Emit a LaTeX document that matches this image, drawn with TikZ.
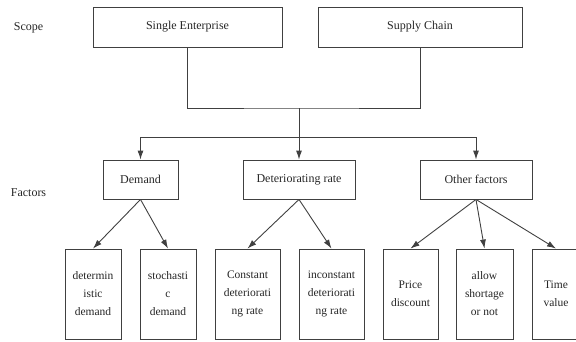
\documentclass[tikz,border=0pt]{standalone}
\usepackage{fontspec}
\setmainfont{Liberation Serif}
\usetikzlibrary{arrows.meta}
\begin{document}
\begin{tikzpicture}[x=1pt,y=-1pt,
  box/.style={draw=black!75, line width=0.9pt, rectangle, inner sep=1pt, align=center, font=\fontsize{12}{12}\selectfont, text=black!85},
  leaf/.style={box, minimum height=90pt, font=\fontsize{11.5}{18}\selectfont},
  lbl/.style={font=\fontsize{12}{12}\selectfont, text=black!85},
  conn/.style={draw=black!75, line width=0.9pt},
  arr/.style={conn, -{Latex[length=9pt,width=6pt]}}]
\useasboundingbox (0,0) rectangle (576,341);
\clip (0,0) rectangle (576,341);
% labels
\node[lbl] (scope) at (28.5,28) {Scope};
\node[lbl] (factors) at (28.5,193) {Factors};
% top level
\node[box, minimum width=189pt, minimum height=40pt] (se) at (187.5,27) {Single Enterprise};
\node[box, minimum width=204pt, minimum height=40pt] (sc) at (420,27) {Supply Chain};
% second level
\node[box, minimum width=75pt, minimum height=39pt] (dem) at (140.5,179.5) {Demand};
\node[box, minimum width=112pt, minimum height=39pt] (det) at (299,179.5) {Deteriorating rate};
\node[box, minimum width=112pt, minimum height=39pt] (oth) at (476,179.5) {Other factors};
% leaves
\node[leaf, minimum width=56pt] (b1) at (93,294) {determin\\istic\\demand};
\node[leaf, minimum width=56pt] (b2) at (168,294) {stochasti\\c\\demand};
\node[leaf, minimum width=65pt] (b3) at (247.5,294) {Constant\\deteriorati\\ng rate};
\node[leaf, minimum width=65pt] (b4) at (331.5,294) {inconstant\\deteriorati\\ng rate};
\node[leaf, minimum width=55pt] (b5) at (410.5,294) {Price\\discount};
\node[leaf, minimum width=57pt] (b6) at (484.5,294) {allow\\shortage\\or not};
\node[leaf, minimum width=48pt] (b7) at (556,294) {Time\\value};
% connectors
\coordinate (top) at (299,108);
\coordinate (mid) at (299,137);
\draw[conn] (se.south) |- (top) -| (sc.south);
\draw[conn] (top) -- (mid);
\draw[arr] (mid) -| (dem.north);
\draw[arr] (mid) -- (det.north);
\draw[arr] (mid) -| (oth.north);
\draw[arr] (dem.south) -- (b1.north);
\draw[arr] (dem.south) -- (b2.north);
\draw[arr] (det.south) -- (b3.north);
\draw[arr] (det.south) -- (b4.north);
\draw[arr] (oth.south) -- (b5.north);
\draw[arr] (oth.south) -- (b6.north);
\draw[arr] (oth.south) -- (b7.north);
\end{tikzpicture}
\end{document}
